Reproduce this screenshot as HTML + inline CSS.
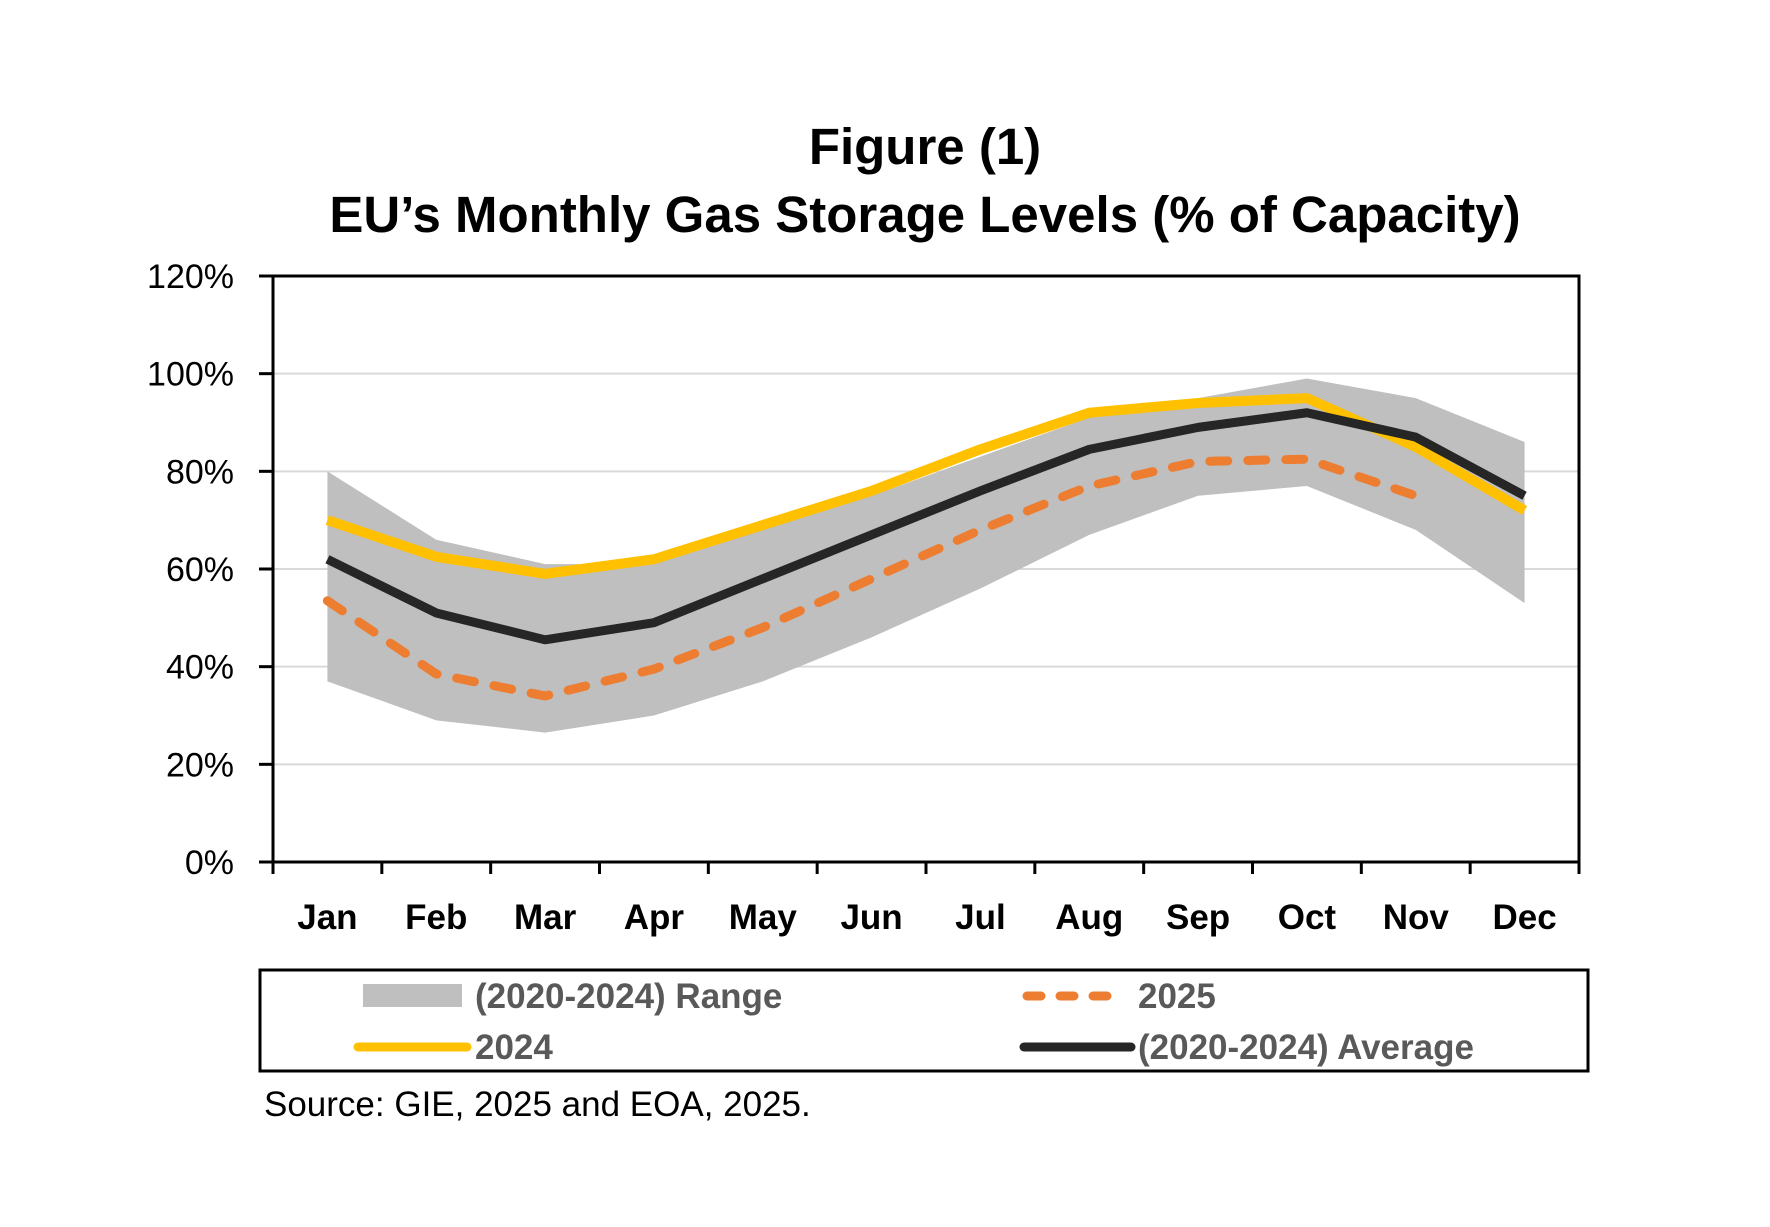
<!DOCTYPE html>
<html><head><meta charset="utf-8"><style>
html,body{margin:0;padding:0;background:#fff;}
svg{display:block;font-family:"Liberation Sans",sans-serif;}
</style></head><body>
<svg width="1770" height="1227" viewBox="0 0 1770 1227">
<g id="chart"></g>
</svg>
<script>
const months=["Jan","Feb","Mar","Apr","May","Jun","Jul","Aug","Sep","Oct","Nov","Dec"];
const rangeUpper=[80,66,61,61,68,75,83,91,95,99,95,86];
const rangeLower=[37,29,26.5,30,37,46,56,67,75,77,68,53];
const s2024=[70,62.5,59,62,69,76,84.5,92,94,95,85,72];
const sAvg=[62,51,45.5,49,58,67,76,84.5,89,92,87,75];
const s2025=[53.5,38.5,34,39.5,48,58,68,77,82,82.5,75];
const yTicks=[0,20,40,60,80,100,120];

const NS="http://www.w3.org/2000/svg";
const g=document.getElementById('chart');
const L=273,R=1579,T=276,B=862;
const bw=(R-L)/12;
function x(i){return L+bw*(i+0.5);}
function y(v){return B-(v/120)*(B-T);}
function mk(tag,attrs,parent){const e=document.createElementNS(NS,tag);for(const k in attrs)e.setAttribute(k,attrs[k]);(parent||g).appendChild(e);return e;}

let t1=mk('text',{x:925,y:164,'text-anchor':'middle','font-size':51,'font-weight':'bold',fill:'#000'});


t1.textContent='Figure (1)';
let t2=mk('text',{x:925,y:232,'text-anchor':'middle','font-size':51,'font-weight':'bold',fill:'#000'});


t2.textContent='EU\u2019s Monthly Gas Storage Levels (% of Capacity)';

yTicks.forEach(v=>{
  if(v>0&&v<120){let gl=mk('line',{x1:L,x2:R,y1:y(v),y2:y(v),stroke:'#d9d9d9','stroke-width':2});
  
  }
  let tk=mk('line',{x1:L-14,x2:L,y1:y(v),y2:y(v),stroke:'#000','stroke-width':3});
  
  
  let tl=mk('text',{x:234,y:y(v)+12,'text-anchor':'end','font-size':34,fill:'#000'});
  
  
  tl.textContent=v+'%';
});

let pts=[];
rangeUpper.forEach((v,i)=>pts.push(x(i)+','+y(v)));
for(let i=rangeLower.length-1;i>=0;i--)pts.push(x(i)+','+y(rangeLower[i]));
let band=mk('polygon',{points:pts.join(' '),fill:'#bfbfbf'});



function line(arr,color,w,dash,name){
  let p=mk('polyline',{points:arr.map((v,i)=>x(i)+','+y(v)).join(' '),fill:'none',stroke:color,'stroke-width':w,'stroke-linejoin':'round','stroke-linecap':dash?'round':'butt'});
  if(dash)p.setAttribute('stroke-dasharray',dash);
  
  
}
line(s2024,'#ffc000',10,null,'line-2024');
line(sAvg,'#262626',9,null,'line-average');
line(s2025,'#ed7d31',9,'18 20','line-2025');

let bd=mk('rect',{x:L,y:T,width:R-L,height:B-T,fill:'none',stroke:'#000','stroke-width':3});


let tl0=mk('line',{x1:L-14,x2:L,y1:T,y2:T,stroke:'#000','stroke-width':3});



for(let i=0;i<=12;i++){
  let tk=mk('line',{x1:L+bw*i,x2:L+bw*i,y1:B,y2:B+12,stroke:'#000','stroke-width':3});
  
  
}
months.forEach((m,i)=>{
  let tl=mk('text',{x:x(i),y:929,'text-anchor':'middle','font-size':35,'font-weight':'bold',fill:'#000'});
  
  
  tl.textContent=m;
});

let lb=mk('rect',{x:260,y:970,width:1328,height:101,fill:'#fff',stroke:'#000','stroke-width':3});


let sw=mk('rect',{x:363,y:984,width:99,height:23,fill:'#bfbfbf'});


let ls1=mk('line',{x1:1027,x2:1120,y1:996,y2:996,stroke:'#ed7d31','stroke-width':9,'stroke-dasharray':'14 19','stroke-linecap':'round'});


let ls2=mk('line',{x1:358,x2:467,y1:1047,y2:1047,stroke:'#ffc000','stroke-width':9,'stroke-linecap':'round'});


let ls3=mk('line',{x1:1024,x2:1131,y1:1047,y2:1047,stroke:'#262626','stroke-width':9,'stroke-linecap':'round'});


[[475,1008,'(2020-2024) Range','legend-label-range'],[1138,1008,'2025','legend-label-2025'],[475,1059,'2024','legend-label-2024'],[1138,1059,'(2020-2024) Average','legend-label-average']].forEach(a=>{
  let tx=mk('text',{x:a[0],y:a[1],'font-size':35,'font-weight':'bold',fill:'#595959'});
  
  
  tx.textContent=a[2];
});
let src=mk('text',{x:264,y:1116,'font-size':35,fill:'#000'});


src.textContent='Source: GIE, 2025 and EOA, 2025.';
</script>
</body></html>
